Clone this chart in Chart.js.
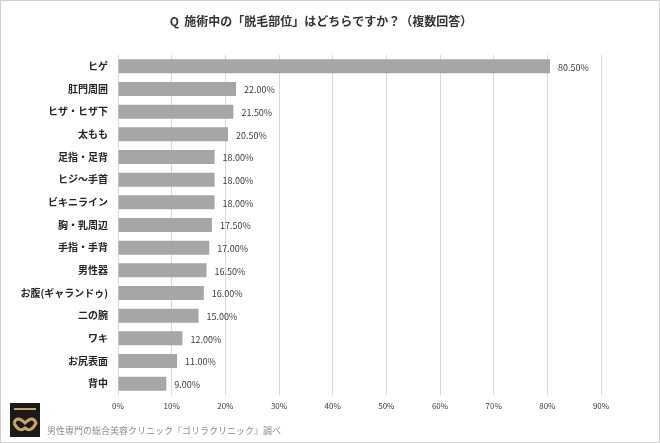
<!DOCTYPE html>
<html lang="ja">
<head>
  <meta charset="UTF-8" />
  <title>施術中の脱毛部位</title>
  <script src="https://cdn.jsdelivr.net/npm/chart.js"></script>
  <style>
    body { margin: 0; background: #fff; }
    #wrap {
      width: 660px;
      height: 443px;
      box-sizing: border-box;
      border: 1px solid #d0d0d0;
      position: relative;
    }
    canvas { position: absolute; left: 0; top: 0; }
  </style>
</head>
<body>
  <div id="wrap">
    <canvas id="grafico" width="658" height="441"></canvas>
  </div>
  <script>
    const titulo = 'Q  施術中の「脱毛部位」はどちらですか？（複数回答）';
    const fonte = '男性専門の総合美容クリニック『ゴリラクリニック』調べ';
    const partes = ['ヒゲ', '肛門周囲', 'ヒザ・ヒザ下', '太もも', '足指・足背', 'ヒジ～手首', 'ビキニライン',
      '胸・乳周辺', '手指・手背', '男性器', 'お腹(ギャランドゥ)', '二の腕', 'ワキ', 'お尻表面', '背中'];
    const porcentagens = [80.5, 22, 21.5, 20.5, 18, 18, 18, 17.5, 17, 16.5, 16, 15, 12, 11, 9];
    const eixoMax = 90;
    const eixoPasso = 10;

    const fonteJP = '"Noto Sans CJK JP", "Noto Sans", sans-serif';

    // rótulos de valor, título, rodapé e logo
    const extras = {
      id: 'extras',
      afterDatasetsDraw(chart) {
        const ctx = chart.ctx;
        const meta = chart.getDatasetMeta(0);
        ctx.save();
        ctx.font = '9px ' + fonteJP;
        ctx.fillStyle = '#404040';
        ctx.textBaseline = 'middle';
        ctx.textAlign = 'left';
        meta.data.forEach((bar, i) => {
          ctx.fillText(porcentagens[i].toFixed(2) + '%', bar.x + 8, bar.y + 1);
        });
        ctx.restore();
      },
      afterDraw(chart) {
        const ctx = chart.ctx;
        ctx.save();
        ctx.font = 'bold 12px ' + fonteJP;
        ctx.fillStyle = '#333';
        ctx.textAlign = 'center';
        ctx.textBaseline = 'middle';
        ctx.fillText(titulo, 320, 20);

        ctx.font = '9px ' + fonteJP;
        ctx.fillStyle = '#8c8c8c';
        ctx.textAlign = 'left';
        ctx.fillText(fonte, 46, 430);

        // logo
        ctx.fillStyle = '#1c1a18';
        ctx.fillRect(9, 402, 30, 34);
        ctx.strokeStyle = '#c9a46a';
        ctx.lineWidth = 3;
        ctx.beginPath();
        ctx.moveTo(13, 422);
        ctx.quadraticCurveTo(16, 414, 24, 422);
        ctx.quadraticCurveTo(32, 414, 35, 422);
        ctx.quadraticCurveTo(30, 432, 24, 427);
        ctx.quadraticCurveTo(18, 432, 13, 422);
        ctx.stroke();
        ctx.fillStyle = '#c9a46a';
        ctx.fillRect(13, 407, 22, 2);
        ctx.restore();
      }
    };

    new Chart(document.getElementById('grafico'), {
      type: 'bar',
      data: {
        labels: partes,
        datasets: [{
          data: porcentagens,
          backgroundColor: '#a6a6a6',
          barPercentage: 0.62,
          categoryPercentage: 1
        }]
      },
      options: {
        indexAxis: 'y',
        responsive: false,
        animation: false,
        layout: { padding: { top: 54, right: 58, bottom: 27, left: 0 } },
        plugins: {
          legend: { display: false },
          tooltip: { enabled: false }
        },
        scales: {
          x: {
            min: 0,
            max: eixoMax,
            ticks: {
              stepSize: eixoPasso,
              callback: v => v + '%',
              font: { size: 8, family: fonteJP },
              color: '#404040',
              padding: 6
            },
            grid: { color: '#d9d9d9', drawTicks: false },
            border: { display: false },
            afterFit: s => { s.height = 20; }
          },
          y: {
            ticks: {
              font: { size: 10, weight: 'bold', family: fonteJP },
              color: '#262626',
              padding: 10
            },
            grid: { display: false, drawTicks: false },
            border: { display: false },
            afterFit: s => { s.width = 117; }
          }
        }
      },
      plugins: [extras]
    });
  </script>
</body>
</html>
